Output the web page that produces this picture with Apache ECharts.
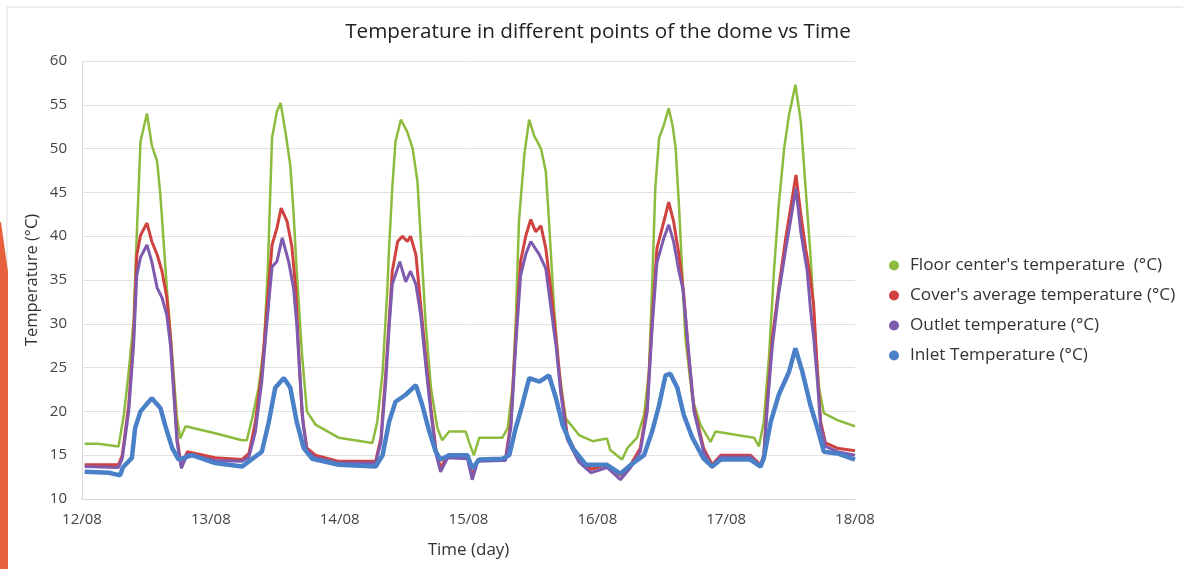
<!DOCTYPE html>
<html>
<head>
<meta charset="utf-8">
<script src="https://cdn.jsdelivr.net/npm/echarts@6/dist/echarts.min.js"></script>
<style>
  html, body { margin: 0; padding: 0; background: #fff; }
  #chart { width: 1183px; height: 569px; }
</style>
</head>
<body>
<div id="chart"></div>
<script>
// x values are hours since 12/08 00:00
const dayLabels = ["12/08", "13/08", "14/08", "15/08", "16/08", "17/08", "18/08"];

const floorTemp = [
  [0.5, 16.3], [3, 16.3], [6.8, 16.0], [7.8, 19.6], [8.7, 24.5], [9.6, 30.2], [10.2, 40.1],
  [10.9, 50.8], [11.5, 52.4], [12.1, 54.0], [13, 50.4], [14, 48.5], [14.6, 44.7], [15.2, 39.4],
  [15.8, 34.1], [16.8, 26.4], [17.7, 19.2], [18.3, 16.9], [19.3, 18.3], [24.8, 17.5], [29.8, 16.7],
  [30.7, 16.7], [31.7, 19.2], [32.9, 22.7], [33.9, 27.6], [34.6, 36], [35.4, 51.2], [36.3, 54.2],
  [37, 55.2], [37.9, 51.9], [38.8, 48.1], [39.4, 42.8], [40, 36], [41, 26.4], [41.9, 20],
  [43.5, 18.5], [47.8, 17], [54.1, 16.4], [55, 18.8], [56, 24.5], [56.9, 34.1], [57.2, 38.6],
  [57.8, 45.5], [58.4, 50.8], [59.4, 53.3], [60.6, 51.9], [61.6, 50], [62.5, 46.2], [63.1, 39.8],
  [64, 30.2], [65, 22.7], [66.2, 18.1], [67.1, 16.7], [68.4, 17.7], [71.5, 17.7], [72.1, 16.5],
  [73, 15.0], [74, 17], [78.3, 17], [79.3, 18.1], [80.2, 22.7], [80.8, 30.2], [81.4, 41.7],
  [82.4, 49.3], [83.3, 53.3], [84.2, 51.5], [85.5, 50], [86.4, 47.4], [87, 41.7], [87.9, 32.1],
  [88.9, 24.5], [90.1, 19.2], [92.6, 17.3], [95.1, 16.6], [97.8, 16.9], [98.4, 15.6], [100.6, 14.5],
  [101.6, 15.8], [103.4, 17], [104.7, 19.6], [105.6, 24.5], [106.2, 34.1], [106.8, 45.5],
  [107.5, 51.2], [108.4, 52.7], [109.3, 54.6], [110, 52.7], [110.6, 50], [111.2, 43.6], [111.8, 36],
  [112.4, 28.4], [113.7, 21.5], [115.2, 18.5], [117.1, 16.5], [118, 17.7], [122, 17.3], [125.2, 17],
  [126.1, 16], [127, 18.8], [128, 26.4], [128.9, 36], [129.8, 43.6], [130.8, 50], [131.7, 53.8],
  [132.9, 57.3], [133.9, 53.1], [134.8, 45.5], [135.7, 37.9], [136.6, 28.4], [137.3, 22.7],
  [138.2, 19.8], [140.7, 19], [144, 18.3]
];

const coverTemp = [
  [0.5, 13.9], [6.8, 13.9], [7.5, 15.0], [8.7, 20.7], [9.6, 28.4], [10.2, 37.8], [10.9, 40.1],
  [12.1, 41.5], [13, 39.4], [14, 37.9], [14.9, 36], [15.8, 33], [16.5, 28.4], [17.1, 22.7],
  [17.7, 17], [18.5, 13.7], [19.6, 15.4], [24.8, 14.7], [29.8, 14.5], [31.1, 15.2], [32.3, 18.8],
  [33.5, 24.5], [34.5, 32.1], [35.4, 39], [36.3, 40.9], [37.1, 43.2], [38.2, 41.7], [39.1, 38.8],
  [39.8, 34.1], [40.4, 26.4], [41, 19.6], [41.9, 15.8], [43.5, 15], [47.8, 14.3], [54.7, 14.3],
  [55.7, 17], [56.6, 24.5], [57.2, 30.2], [57.8, 36], [58.8, 39.4], [59.7, 40], [60.6, 39.4],
  [61.2, 40], [62.2, 37.9], [63.1, 32.1], [64, 26.4], [65, 20.4], [65.9, 15.8], [66.8, 13.5],
  [68.1, 15], [71.8, 14.8], [72.7, 12.6], [73.7, 14.5], [78.3, 14.6], [78.9, 14.6], [79.9, 18.8],
  [80.8, 28.4], [81.7, 37.1], [82.7, 40.1], [83.6, 41.9], [84.5, 40.5], [85.5, 41.2], [86.4, 38.6],
  [87.3, 34.1], [88.3, 28.4], [89.2, 22.7], [90.4, 17.3], [92.6, 14.6], [94.8, 13.4], [97.8, 13.9],
  [100.3, 12.7], [102.2, 13.9], [104, 15.8], [105.3, 20.7], [106.2, 30.2], [107.1, 38.6],
  [108.4, 41.7], [109.3, 43.9], [110.2, 41.7], [111.2, 37.9], [112.1, 33.4], [113, 26.4],
  [114, 20.4], [115.8, 15.8], [117.4, 13.9], [119, 15], [124.5, 15], [126.4, 13.9], [127, 15],
  [127.6, 20.7], [128.6, 28.4], [129.8, 34.1], [131.1, 39.8], [132.3, 44.3], [133, 47],
  [133.9, 42.5], [134.8, 38.6], [135.7, 35.2], [136.3, 32.1], [137, 24.5], [137.6, 18.8],
  [138.5, 16.4], [140.7, 15.8], [144, 15.5]
];

const outletTemp = [
  [0.5, 13.7], [6.8, 13.6], [7.5, 14.6], [8.7, 20], [9.6, 27.5], [10.2, 35.5], [10.9, 37.6],
  [12.1, 39.0], [13, 37.1], [14, 34.1], [14.9, 33], [15.8, 31], [16.5, 27.5], [17.1, 22],
  [17.7, 16.5], [18.5, 13.5], [19.6, 15.1], [24.8, 14.4], [29.8, 14.3], [31.1, 14.8], [32.3, 17.7],
  [33.5, 23.5], [34.5, 30.5], [35.4, 36.5], [36.3, 37.1], [37.3, 39.8], [38.5, 37.1], [39.4, 34.1],
  [40, 30], [40.6, 24], [41.2, 18.5], [41.9, 15.5], [43.5, 14.7], [47.8, 14.1], [54.7, 14.1],
  [55.7, 16.5], [56.6, 23.5], [57.2, 29.5], [57.8, 34.5], [59.2, 37.1], [60.3, 34.8], [61.2, 36],
  [62.2, 34.5], [63.1, 31], [64, 25.5], [65, 19.8], [65.9, 15.3], [66.8, 13.1], [68.1, 14.7],
  [71.8, 14.6], [72.7, 12.2], [73.7, 14.3], [78.3, 14.4], [78.9, 14.4], [79.9, 18.2], [80.8, 27.5],
  [81.7, 35.5], [82.7, 38], [83.6, 39.4], [85.2, 37.9], [86.4, 36.3], [87.3, 32.1], [88.3, 27.5],
  [89.2, 22], [90.4, 16.8], [92.6, 14.2], [94.8, 13.0], [97.8, 13.6], [100.3, 12.2], [102.2, 13.6],
  [104, 15.4], [105.3, 20], [106.2, 29.5], [107.1, 37], [108.4, 39.8], [109.3, 41.3], [110.2, 39.4],
  [111.2, 36], [111.9, 34.1], [112.5, 30.2], [113.2, 25.5], [114, 20], [115.8, 15.4], [117.4, 13.6],
  [119, 14.8], [124.5, 14.8], [126.4, 13.7], [127, 14.7], [127.6, 20], [128.6, 27.5], [129.8, 33.5],
  [131.1, 38.5], [132.3, 42.9], [133, 45.5], [133.9, 40.5], [135.1, 36], [135.7, 31.7],
  [136.3, 28.4], [137, 23.5], [137.6, 18.3], [138.5, 16], [140.7, 15.4], [144, 15.0]
];

const inletTemp = [
  [0.5, 13.1], [5, 13.0], [7.1, 12.7], [7.6, 13.6], [9.3, 14.7], [9.9, 18.1], [10.9, 20],
  [13, 21.5], [14.6, 20.4], [15.5, 18.4], [16.8, 15.8], [18, 14.5], [18.6, 14.6], [20.5, 15.0],
  [24.8, 14.1], [29.8, 13.7], [31.1, 14.3], [33.5, 15.4], [34.8, 18.8], [36, 22.7], [37.6, 23.8],
  [38.8, 22.7], [40, 18.8], [41.3, 15.8], [42.9, 14.6], [47.8, 13.9], [54.7, 13.7], [56, 15],
  [57.2, 18.8], [58.4, 21.1], [60.3, 21.9], [62.2, 23], [63.4, 20.7], [64.7, 17.7], [65.9, 15.4],
  [66.8, 14.5], [68.4, 15], [71.8, 15], [72.7, 13.5], [74, 14.5], [78.3, 14.6], [79.6, 15],
  [80.8, 18.1], [82, 20.7], [83.3, 23.8], [85.2, 23.4], [87, 24.1], [88.3, 21.5], [89.5, 18.5],
  [91.4, 15.8], [93.9, 13.9], [97.8, 13.9], [100.3, 12.9], [102.2, 13.9], [104.7, 15],
  [106.2, 17.7], [107.5, 20.7], [108.7, 24.1], [109.6, 24.3], [110.9, 22.7], [112.1, 19.6],
  [113.7, 17], [115.8, 14.6], [117.4, 13.7], [119, 14.5], [124.5, 14.5], [126.4, 13.7],
  [127, 14.6], [128.3, 18.8], [129.8, 21.9], [131.7, 24.5], [132.9, 27.2], [134.2, 24.5],
  [135.7, 20.7], [137, 18.1], [138.2, 15.4], [140.7, 15.2], [144, 14.5]
];

const seriesNames = [
  "Floor center's temperature  (°C)",
  "Cover's average temperature (°C)",
  "Outlet temperature (°C)",
  "Inlet Temperature (°C)"
];

const chart = echarts.init(document.getElementById("chart"));

function mkSeries(name, data, color, width) {
  return {
    name: name,
    type: "line",
    data: data,
    showSymbol: false,
    symbol: "circle",
    itemStyle: { color: color },
    lineStyle: { color: color, width: width },
    animation: false
  };
}

chart.setOption({
  backgroundColor: "#fff",
  textStyle: { fontFamily: "Open Sans" },
  title: {
    text: "Temperature in different points of the dome vs Time",
    left: 593,
    textAlign: "center",
    top: 17,
    textStyle: { fontSize: 20.7, fontWeight: "normal", color: "#222", fontFamily: "Open Sans" }
  },
  legend: {
    orient: "vertical",
    left: 884,
    top: 252,
    itemGap: 13,
    itemWidth: 22,
    itemHeight: 10,
    icon: "circle",
    textStyle: { fontSize: 17.2, color: "#333", fontFamily: "Open Sans" },
    data: seriesNames
  },
  grid: { left: 82, right: 328, top: 61, bottom: 70 },
  xAxis: {
    type: "value",
    min: 0,
    max: 144,
    interval: 24,
    name: "Time (day)",
    nameLocation: "middle",
    nameGap: 43,
    nameTextStyle: { fontSize: 17, color: "#333" },
    axisLine: { show: true, lineStyle: { color: "#d9d9d9" } },
    axisTick: { show: false },
    splitLine: { show: false },
    axisLabel: {
      fontSize: 15,
      color: "#444",
      margin: 13,
      formatter: function (v) { return dayLabels[v / 24]; }
    }
  },
  yAxis: {
    type: "value",
    min: 10,
    max: 60,
    interval: 5,
    name: "Temperature (°C)",
    nameLocation: "middle",
    nameGap: 41,
    nameMoveOverlap: false,
    nameTextStyle: { fontSize: 16.5, color: "#333" },
    axisLine: { show: true, lineStyle: { color: "#d9d9d9" } },
    axisTick: { show: false },
    splitLine: { show: true, lineStyle: { color: "#e0e0e0" } },
    axisLabel: { fontSize: 15, color: "#444", margin: 15 }
  },
  graphic: [
    {
      type: "polyline",
      shape: { points: [[7, 569], [7, 7], [1183, 7]] },
      style: { stroke: "#dcdcdc", lineWidth: 1, fill: null },
      silent: true
    },
    {
      type: "polygon",
      shape: { points: [[0, 222], [1, 222], [8, 272], [8, 569], [0, 569]] },
      style: { fill: "#E8603C" },
      silent: true
    }
  ],
  series: [
    mkSeries(seriesNames[0], floorTemp, "#8DBB3E", 2.5),
    mkSeries(seriesNames[1], coverTemp, "#D0423F", 3),
    mkSeries(seriesNames[2], outletTemp, "#7E5BAE", 3),
    mkSeries(seriesNames[3], inletTemp, "#4A80C8", 4.5)
  ]
});
</script>
</body>
</html>
